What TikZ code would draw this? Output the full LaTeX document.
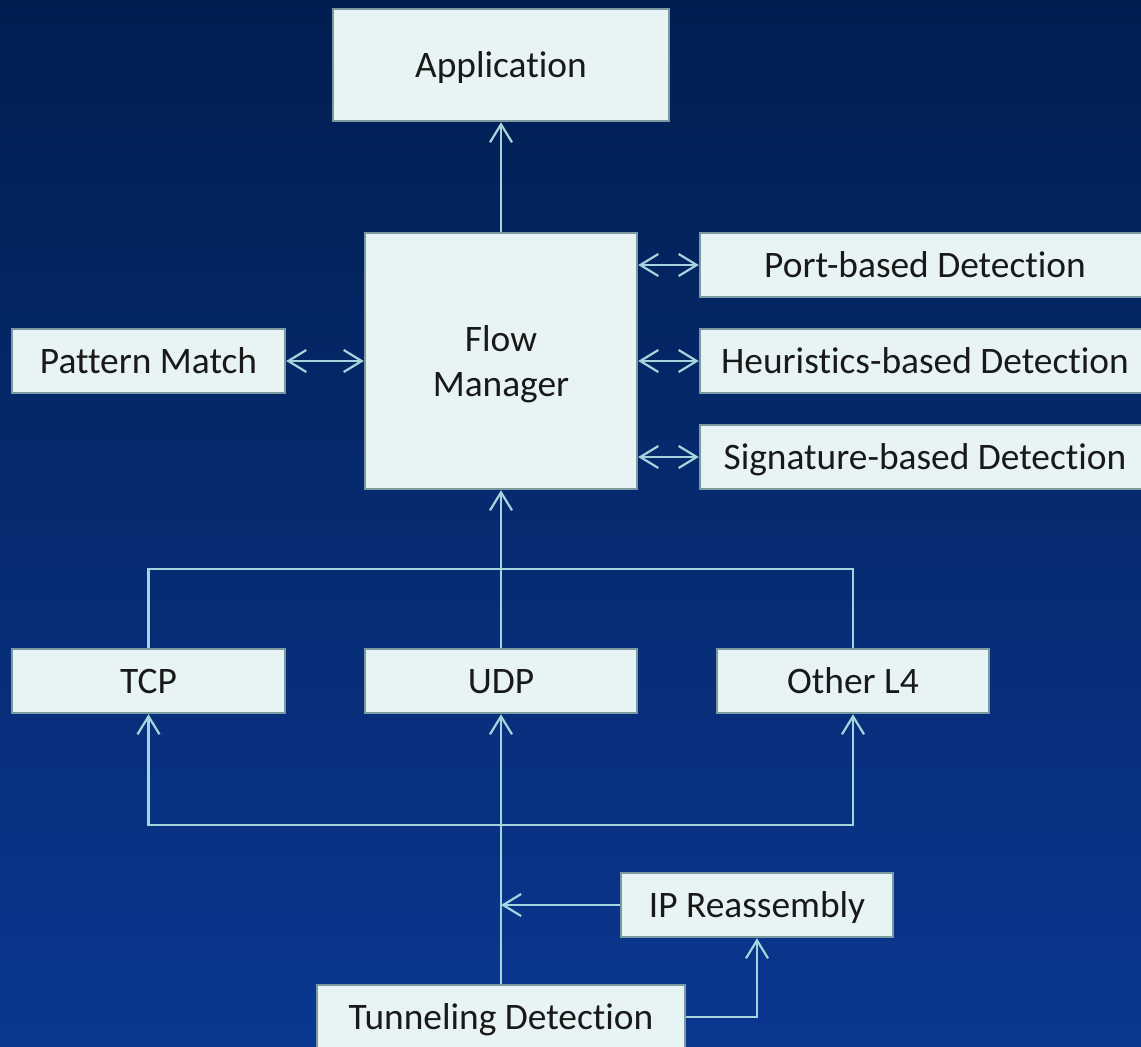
\documentclass[tikz,border=0pt]{standalone}
\usepackage{fontspec}
\setmainfont{Carlito}[Ligatures=CommonOff]
\usepackage{tikz}
\usetikzlibrary{arrows.meta,positioning}
\definecolor{bgtop}{RGB}{0,30,80}
\definecolor{bgbot}{RGB}{11,55,145}
\definecolor{boxfill}{RGB}{232,244,244}
\definecolor{boxline}{RGB}{122,154,160}
\definecolor{wire}{RGB}{165,213,220}
\tikzset{
  box/.style={draw=boxline, line width=1.2pt, fill=boxfill, inner sep=0pt,
    align=center, text=black!90, font=\fontsize{18.7}{22.2}\selectfont},
  oneline/.style={box, text height=14pt, text depth=1.5pt},
  bar/.style={draw=wire, line width=1.1pt},
  link/.style={bar, -{Straight Barb[length=9pt,width=11pt]}},
  both/.style={bar, {Straight Barb[length=9pt,width=11pt]}-{Straight Barb[length=9pt,width=11pt]}},
}

\begin{document}
\begin{tikzpicture}[x=0.5pt,y=-0.5pt]
    \clip (0,0) rectangle (1141,1046);
    \shade[top color=bgtop, bottom color=bgbot] (0,0) rectangle (1141,1046);
    % boxes
    \node[oneline, minimum width=168pt, minimum height=56pt] (app) at (501,65) {Application};
    \node[box, text depth=0pt, minimum width=136pt, minimum height=128pt] (flow) at (501,361) {Flow\\Manager};
    \node[oneline, minimum width=225pt, minimum height=32pt] (port) at (925,265) {Port-based Detection};
    \node[oneline, minimum width=225pt, minimum height=32pt] (heur) at (925,361) {Heuristics-based Detection};
    \node[oneline, minimum width=225pt, minimum height=32pt] (sig) at (925,457) {Signature-based Detection};
    \node[oneline, minimum width=136.5pt, minimum height=32pt] (pat) at (148.5,361) {Pattern Match};
    \node[oneline, minimum width=136.5pt, minimum height=32pt] (tcp) at (148.5,681) {TCP};
    \node[oneline, minimum width=136pt, minimum height=32pt] (udp) at (501,681) {UDP};
    \node[oneline, minimum width=136pt, minimum height=32pt] (other) at (853,681) {Other L4};
    \node[oneline, minimum width=136pt, minimum height=32pt] (ipr) at (757,905) {IP Reassembly};
    \node[oneline, minimum width=184pt, minimum height=32pt] (tun) at (501,1017) {Tunneling Detection};
    % junction points of the two buses
    \coordinate (bus) at (501,569);
    \coordinate (lowbus) at (501,825);
    % upper part
    \draw[link] (flow) -- (app);
    \draw[both] (flow.east |- port) -- (port.west);
    \draw[both] (flow.east |- heur) -- (heur.west);
    \draw[both] (flow.east |- sig) -- (sig.west);
    \draw[both] (pat.east) -- (flow.west);
    % L4 to flow manager
    \draw[bar] (tcp.north) |- (bus) -| (other.north);
    \draw[link] (udp.north) -- (flow.south);
    % tunneling up to L4
    \draw[link] (lowbus) -| (tcp.south);
    \draw[link] (lowbus) -| (other.south);
    \draw[link] (tun.north) -- (udp.south);
    \draw[link] (ipr.west) -- (ipr.west -| tun.north);
    \draw[link] (tun.east) -| (ipr.south);
\end{tikzpicture}
\end{document}
